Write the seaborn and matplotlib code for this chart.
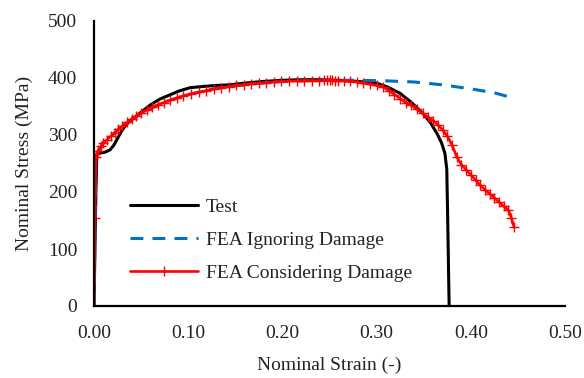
import matplotlib
matplotlib.use("Agg")
import matplotlib.pyplot as plt
import seaborn as sns
import pandas as pd

# Test record (nominal strain, nominal stress in MPa)
test_strain = [0.000, 0.002, 0.003, 0.006, 0.012, 0.017, 0.021, 0.025, 0.029,
               0.034, 0.040, 0.050, 0.060, 0.070, 0.080, 0.090, 0.102, 0.115,
               0.130, 0.144, 0.160, 0.180, 0.200, 0.220, 0.240, 0.260, 0.280,
               0.300, 0.312, 0.325, 0.337, 0.349, 0.357, 0.364, 0.369, 0.3725,
               0.3745, 0.3755, 0.377]
test_stress = [0, 200, 266, 268, 270, 274, 282, 294, 306,
               318, 327, 340, 353, 363, 370, 377, 383, 385,
               387, 388, 391, 394, 396, 397, 397, 396, 394,
               391, 384, 373, 357, 338, 322, 303, 286, 268,
               240, 150, 0]

# FEA without damage
ign_strain = [0.000, 0.002, 0.010, 0.020, 0.030, 0.050, 0.075, 0.100, 0.130,
              0.160, 0.190, 0.220, 0.250, 0.280, 0.310, 0.340, 0.370, 0.400,
              0.425, 0.447]
ign_stress = [0, 262, 286, 301, 316, 338, 358, 371, 382,
              388, 393, 395, 396, 396, 395, 393, 388, 381,
              374, 364]

# FEA with damage
dmg_strain = [0.000, 0.001, 0.002, 0.004, 0.007, 0.010, 0.014, 0.018, 0.022,
              0.026, 0.030, 0.035, 0.040, 0.045, 0.050, 0.056, 0.062, 0.068,
              0.074, 0.081, 0.088, 0.095, 0.103, 0.111, 0.119, 0.127, 0.135,
              0.143, 0.151, 0.159, 0.167, 0.175, 0.183, 0.191, 0.199, 0.207,
              0.215, 0.223, 0.231, 0.239, 0.244, 0.247, 0.250, 0.253, 0.256,
              0.259, 0.265, 0.272, 0.279, 0.286, 0.293, 0.300, 0.307, 0.313,
              0.319, 0.325, 0.331, 0.337, 0.343, 0.349, 0.355, 0.360, 0.365,
              0.370, 0.375, 0.380, 0.385, 0.390, 0.395, 0.400, 0.405, 0.410,
              0.415, 0.420, 0.425, 0.430, 0.435, 0.440, 0.443, 0.446]
dmg_stress = [0, 155, 262, 272, 280, 286, 292, 298, 304,
              310, 316, 322, 328, 333, 338, 344, 349, 353,
              357, 361, 365, 369, 372, 375, 378, 381, 383,
              385, 387, 388, 390, 391, 392, 393, 394, 394.5,
              395, 395, 395.5, 395.5, 396, 396, 396, 396, 395.5,
              395.5, 395, 394, 393, 391, 389, 387, 384, 378,
              371, 364, 357, 352, 345, 338, 331, 325, 318,
              309, 298, 283, 262, 248, 239, 230, 221, 212,
              204, 197, 190, 182, 175, 168, 155, 138]

x_ticks = [0.0, 0.1, 0.2, 0.3, 0.4, 0.5]
y_ticks = [0, 100, 200, 300, 400, 500]

sns.set_style("white")
plt.rcParams["font.family"] = ["Liberation Serif", "DejaVu Serif"]

fig = plt.figure(figsize=(5.84, 3.78), dpi=100)
ax = fig.add_axes([94 / 584, 1 - 306 / 378, (565 - 94) / 584, (306 - 21) / 378])

df_test = pd.DataFrame({"strain": test_strain, "stress": test_stress})
df_ign = pd.DataFrame({"strain": ign_strain, "stress": ign_stress})
df_dmg = pd.DataFrame({"strain": dmg_strain, "stress": dmg_stress})

sns.lineplot(data=df_test, x="strain", y="stress", ax=ax, sort=False,
             estimator=None, color="black", linewidth=2.2, label="Test")
sns.lineplot(data=df_ign, x="strain", y="stress", ax=ax, sort=False,
             estimator=None, color="#0070C0", linewidth=2.2,
             dashes=False, label="FEA Ignoring Damage")
ax.lines[-1].set_dashes([4.2, 3.0])
sns.lineplot(data=df_dmg, x="strain", y="stress", ax=ax, sort=False,
             estimator=None, color="#FF0000", linewidth=1.9, marker="+",
             markersize=6.5, markeredgewidth=1.0, markeredgecolor="#FF0000",
             markerfacecolor="#FF0000", label="FEA Considering Damage")

ax.set_xlim(0, 0.5)
ax.set_ylim(0, 500)
ax.set_xticks(x_ticks)
ax.set_xticklabels([f"{v:.2f}" for v in x_ticks])
ax.set_yticks(y_ticks)
ax.set_yticklabels([str(v) for v in y_ticks])
ax.tick_params(axis="both", length=0, labelsize=14, colors="#222222")
ax.tick_params(axis="x", pad=14)
ax.tick_params(axis="y", pad=12)

for side in ("top", "right"):
    ax.spines[side].set_visible(False)
for side in ("left", "bottom"):
    ax.spines[side].set_color("black")
    ax.spines[side].set_linewidth(1.6)

ax.set_xlabel("Nominal Strain (-)", fontsize=14, color="#222222", labelpad=10)
ax.set_ylabel("Nominal Stress (MPa)", fontsize=14, color="#222222", labelpad=11)

leg = ax.legend(loc="upper left", bbox_to_anchor=(0.076, 0.379), frameon=False,
                fontsize=14, handlelength=3.5, handletextpad=0.4,
                labelspacing=0.8, borderpad=0, borderaxespad=0)
for t in leg.get_texts():
    t.set_color("#222222")

fig.savefig("out.png", dpi=100)
